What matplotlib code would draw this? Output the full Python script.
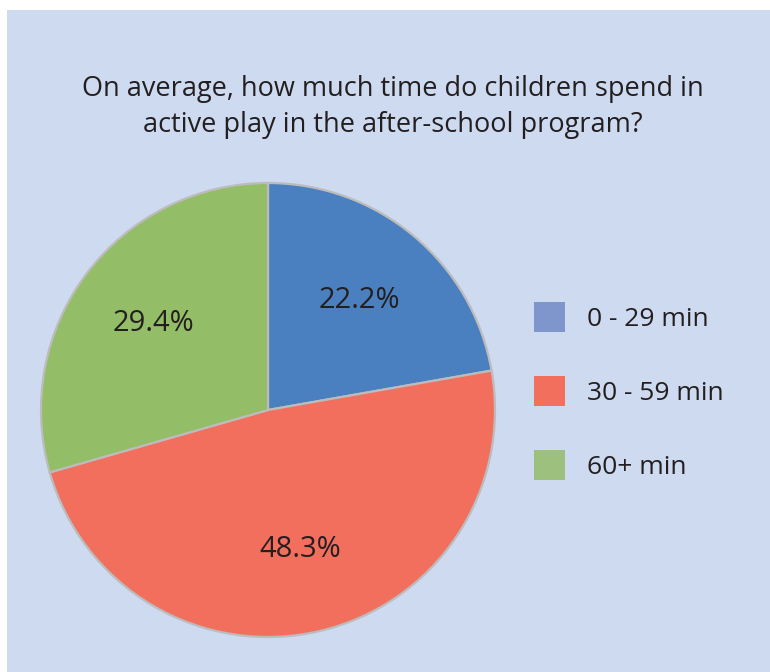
import matplotlib.pyplot as plt
from matplotlib.patches import Patch

categories = ['0 - 29 min', '30 - 59 min', '60+ min']
values = [22.2, 48.3, 29.4]
pie_colors = ['#4a80c0', '#f26f5e', '#93bd67']
legend_colors = ['#7f96cc', '#f26f5e', '#9dc07e']
title = 'On average, how much time do children spend in\nactive play in the after-school program?'

plt.rcParams['font.family'] = ['Open Sans', 'DejaVu Sans']

W, H = 770, 672
fig = plt.figure(figsize=(W / 100, H / 100), dpi=100)
fig.patch.set_facecolor('white')

# light blue panel with a small white margin at top and left
bg = fig.add_axes([7 / W, 0, 1 - 7 / W, 1 - 10 / H])
bg.set_facecolor('#cddaef')
bg.set_xticks([])
bg.set_yticks([])
for s in bg.spines.values():
    s.set_visible(False)

fig.text(393 / W, 1 - 107 / H, title, ha='center', va='center',
         fontsize=19.5, color='#231f20', linespacing=1.4)

# pie
ax = fig.add_axes([41 / W, 1 - 637 / H, 454 / W, 454 / H])
wedges, texts, autotexts = ax.pie(values, colors=pie_colors, startangle=90,
                                  counterclock=False, autopct='%1.1f%%',
                                  pctdistance=0.63,
                                  wedgeprops=dict(edgecolor='#bcbcbc', linewidth=1.6,
                                                  clip_on=False),
                                  textprops=dict(fontsize=21, color='#231f20'))
ax.set_xlim(-1, 1)
ax.set_ylim(-1, 1)
ax.set_aspect('equal')

handles = [Patch(facecolor=c, edgecolor='none') for c in legend_colors]
fig.legend(handles, categories, loc='upper left',
           bbox_to_anchor=(510 / W, 1 - 278 / H), frameon=False,
           fontsize=19, handlelength=1.17, handleheight=1.4,
           handletextpad=0.83, labelspacing=1.65, labelcolor='#231f20')

fig.savefig('out.png', dpi=100)
